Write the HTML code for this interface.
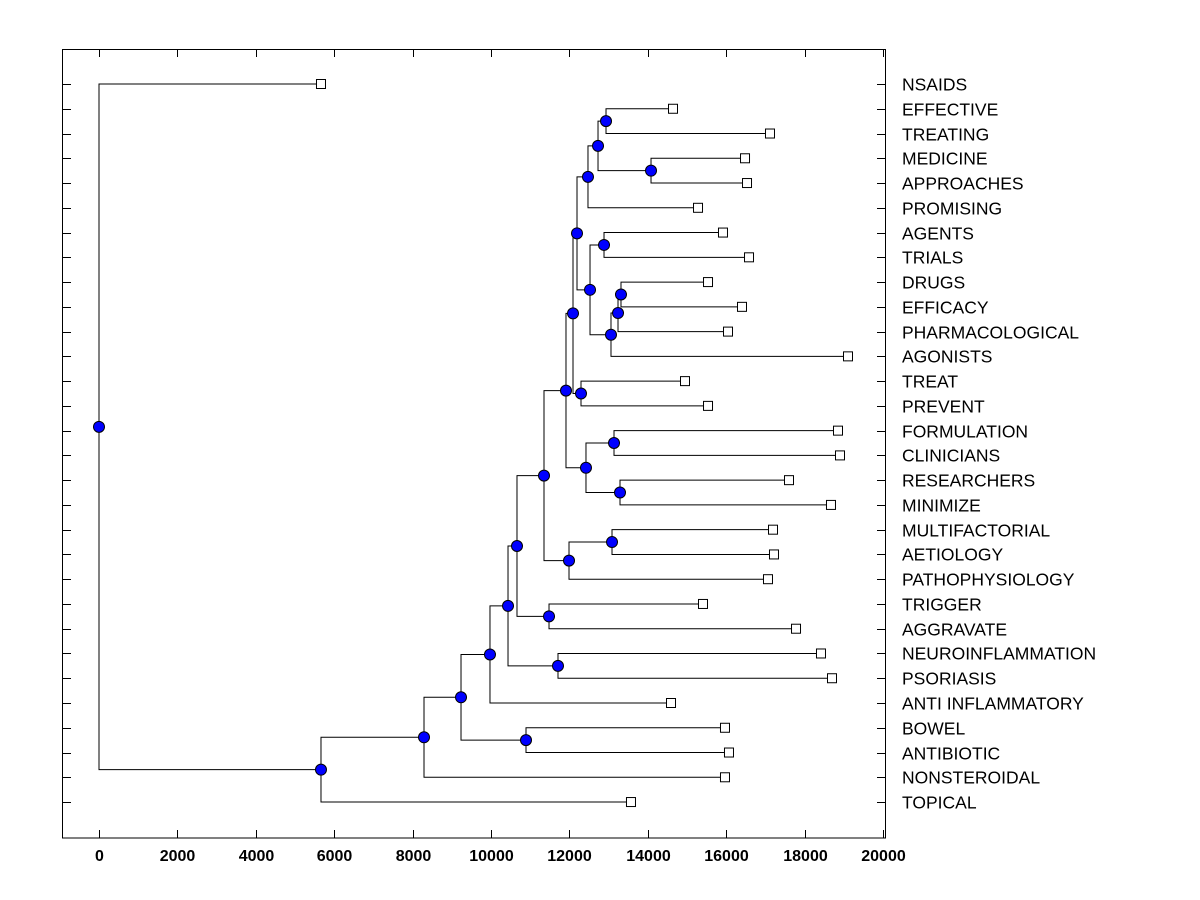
<!DOCTYPE html>
<html><head><meta charset="utf-8"><style>
body{margin:0;background:#fff;}
svg{display:block;font-family:"Liberation Sans",Arial,sans-serif;}
</style></head><body>
<svg id="chart" width="1200" height="900"></svg>
<script>
const leafNames=["NSAIDS","EFFECTIVE","TREATING","MEDICINE","APPROACHES","PROMISING","AGENTS","TRIALS","DRUGS","EFFICACY","PHARMACOLOGICAL","AGONISTS","TREAT","PREVENT","FORMULATION","CLINICIANS","RESEARCHERS","MINIMIZE","MULTIFACTORIAL","AETIOLOGY","PATHOPHYSIOLOGY","TRIGGER","AGGRAVATE","NEUROINFLAMMATION","PSORIASIS","ANTI INFLAMMATORY","BOWEL","ANTIBIOTIC","NONSTEROIDAL","TOPICAL"];
const leafValues=[5663,14643,17117,16480,16531,15281,15918,16582,15536,16403,16046,19107,14949,15536,18852,18903,17602,18673,17194,17219,17066,15408,17781,18418,18699,14592,15969,16071,15969,13571];
// merges: [childA, childB, value]; leaves are "L<i>", nodes "N<i>"
const merges=[
["L1","L2",12934],["L3","L4",14082],["N0","N1",12730],["N2","L5",12474],
["L6","L7",12883],["L8","L9",13316],["N5","L10",13240],["N6","L11",13061],
["N4","N7",12526],["N3","N8",12194],["L12","L13",12296],["N9","N10",12092],
["L14","L15",13138],["L16","L17",13291],["N12","N13",12423],["N11","N14",11913],
["L18","L19",13087],["N16","L20",11990],["N15","N17",11352],["L21","L22",11480],
["N18","N19",10663],["L23","L24",11709],["N20","N21",10434],["N22","L25",9974],
["L26","L27",10893],["N23","N24",9235],["N25","L28",8291],["N26","L29",5663],
["L0","N27",0]];
const xTicks=[0,2000,4000,6000,8000,10000,12000,14000,16000,18000,20000];

const svg=document.getElementById('chart');
const NS='http://www.w3.org/2000/svg';
const X=v=>99+v*(883-99)/20000;
const Y=i=>84+i*24.76;
function el(tag,attrs,name){const e=document.createElementNS(NS,tag);for(const k in attrs)e.setAttribute(k,attrs[k]);


svg.appendChild(e);return e;}
el('rect',{x:62.5,y:49.5,width:823,height:788.5,fill:'none',stroke:'#000','stroke-width':1},'plot-frame');
xTicks.forEach(t=>{const x=Math.round(X(t))+0.5;
el('line',{x1:x,y1:838,x2:x,y2:830,stroke:'#000'},'x-tick');
el('line',{x1:x,y1:49,x2:x,y2:57,stroke:'#000'},'x-tick-top');
const tx=el('text',{x:x,y:861,'text-anchor':'middle','font-size':16,'font-weight':'bold'},'x-tick-label');tx.textContent=t;});
leafNames.forEach((n,i)=>{const y=Math.round(Y(i))+0.5;
el('line',{x1:62,y1:y,x2:71,y2:y,stroke:'#000'},'y-tick');
el('line',{x1:877,y1:y,x2:886,y2:y,stroke:'#000'},'y-tick-right');
const t=el('text',{x:902,y:y+6,'font-size':17.5},'leaf-label');t.textContent=n;});
const pos={};
leafNames.forEach((n,i)=>pos['L'+i]={x:X(leafValues[i]),y:Y(i)});
const circles=[];
merges.forEach((m,k)=>{const a=pos[m[0]],b=pos[m[1]];const x=X(m[2]);const y=(a.y+b.y)/2;pos['N'+k]={x:x,y:y};
el('polyline',{points:`${a.x},${a.y} ${x},${a.y} ${x},${b.y} ${b.x},${b.y}`,fill:'none',stroke:'#000','stroke-width':1},'branch');
circles.push([x,y]);});
leafNames.forEach((n,i)=>{const p=pos['L'+i];el('rect',{x:p.x-4.5,y:p.y-4.5,width:9,height:9,fill:'#fff',stroke:'#000'},'leaf-marker');});
circles.forEach(c=>el('circle',{cx:c[0],cy:c[1],r:5.5,fill:'#0000ff',stroke:'#000','stroke-width':1},'node-marker'));
</script>
</body></html>
